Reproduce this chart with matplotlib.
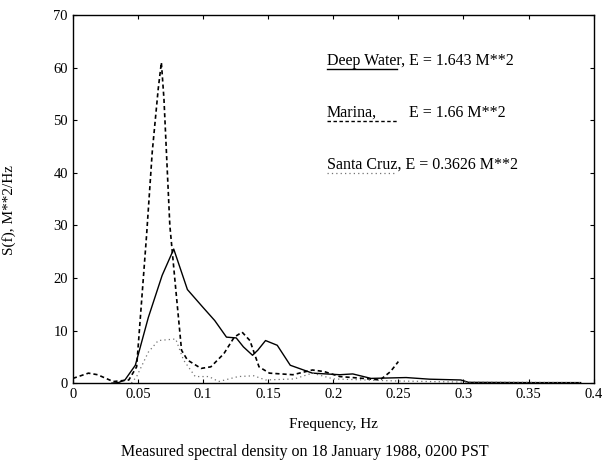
import numpy as np
import matplotlib
matplotlib.use("Agg")
import matplotlib.pyplot as plt

plt.rcParams['font.family'] = ['Liberation Serif', 'DejaVu Serif']

# spectra (frequency in Hz, S(f) in M**2/Hz)
deep_f = [0.030, 0.035, 0.040, 0.048, 0.058, 0.0686, 0.0775, 0.088, 0.100, 0.109,
          0.118, 0.1255, 0.131, 0.138, 0.142, 0.148, 0.157, 0.167, 0.184, 0.205,
          0.215, 0.229, 0.256, 0.274, 0.298, 0.304, 0.35, 0.39]
deep_s = [0.0, 0.1, 0.6, 3.4, 12.5, 20.5, 25.5, 17.8, 14.4, 11.9,
          8.75, 8.6, 6.9, 5.3, 6.25, 8.1, 7.2, 3.4, 1.9, 1.6,
          1.75, 0.9, 1.06, 0.75, 0.6, 0.15, 0.1, 0.1]

marina_f = [0.0, 0.012, 0.019, 0.031, 0.043, 0.049, 0.0566, 0.061, 0.0656, 0.068,
            0.070, 0.0745, 0.079, 0.0835, 0.088, 0.0985, 0.106, 0.116, 0.124, 0.130,
            0.136, 0.143, 0.151, 0.169, 0.184, 0.193, 0.205, 0.223, 0.236, 0.244, 0.250]
marina_s = [0.9, 1.9, 1.6, 0.3, 0.6, 3.1, 28, 44, 56, 61,
            54, 30, 18, 6.25, 4.4, 2.8, 3.1, 5.6, 8.75, 9.7,
            8.1, 3.1, 1.9, 1.6, 2.5, 2.2, 1.25, 0.9, 0.6, 2.2, 4.1]

santa_f = [0.045, 0.049, 0.058, 0.0656, 0.079, 0.085, 0.094, 0.1045, 0.112, 0.127,
           0.139, 0.148, 0.17, 0.184, 0.2, 0.25, 0.3, 0.39]
santa_s = [0.0, 1.25, 5.9, 8.1, 8.4, 4.4, 1.25, 1.25, 0.3, 1.25,
           1.4, 0.6, 0.8, 1.9, 0.8, 0.4, 0.2, 0.1]

names = ["Deep Water, E = 1.643 M**2", "Marina,", "Santa Cruz, E = 0.3626 M**2"]
marina_energy = "E = 1.66 M**2"

fig = plt.figure(figsize=(6.12, 4.73), dpi=100)
ax = fig.add_axes([0.119, 0.19, 0.851, 0.778])

ax.plot(deep_f, deep_s, color='black', lw=1.0, ls='-')
ax.plot(marina_f, marina_s, color='black', lw=1.2, ls=(0, (2.5, 1.8)))
ax.plot(santa_f, santa_s, color='0.45', lw=0.9, ls=(0, (1, 2.5)))

ax.set_xlim(0, 0.4)
ax.set_ylim(0, 70)
ax.set_xticks(np.arange(0, 0.41, 0.05))
ax.set_xticklabels(['0', '0.05', '0.1', '0.15', '0.2', '0.25', '0.3', '0.35', '0.4'])
ax.set_yticks(range(0, 71, 10))
ax.tick_params(direction='in', top=True, right=True, labelsize=10.5, length=3, width=0.8)
for s in ax.spines.values():
    s.set_linewidth(1.0)

ax.set_xlabel("Frequency, Hz", fontsize=11, labelpad=12)
ax.set_ylabel("S(f), M**2/Hz", fontsize=11)
ax.yaxis.set_label_coords(-0.11, 0.47)

# hand-made legend: text, with the line style drawn under the site name
ys = [61.3, 51.4, 41.5]
styles = [dict(color='black', lw=1.0, ls='-'),
          dict(color='black', lw=1.0, ls=(0, (2.5, 1.8))),
          dict(color='0.45', lw=0.9, ls=(0, (1, 2.5)))]
for lab, y, st in zip(names, ys, styles):
    ax.text(0.195, y, lab, fontsize=11.5, va='center', ha='left')
    ax.plot([0.195, 0.249], [y - 1.5, y - 1.5], **st)
ax.text(0.258, ys[1], marina_energy, fontsize=11.5, va='center', ha='left')

fig.text(0.498, 0.035, "Measured spectral density on 18 January 1988, 0200 PST",
         ha='center', fontsize=11.5)

fig.savefig("out.png", dpi=100)
